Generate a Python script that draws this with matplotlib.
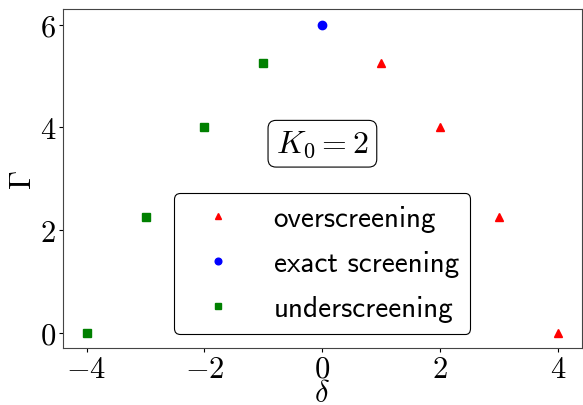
import matplotlib
matplotlib.use("Agg")
import matplotlib.pyplot as plt

plt.rcParams['mathtext.fontset'] = 'cm'
plt.rcParams['axes.formatter.use_mathtext'] = True
plt.rcParams['font.family'] = ['cmr10', 'DejaVu Sans']

over_x = [1, 2, 3, 4]
over_y = [5.25, 4, 2.25, 0]
exact_x = [0]
exact_y = [6]
under_x = [-1, -2, -3, -4]
under_y = [5.25, 4, 2.25, 0]

fig = plt.figure(figsize=(5.83, 4.06), dpi=100)
ax = fig.add_axes([0.108, 0.140, 0.890, 0.835])

ax.plot(over_x, over_y, '^', color='red', ms=6, label='overscreening', ls='none')
ax.plot(exact_x, exact_y, 'o', color='blue', ms=6, label='exact screening', ls='none')
ax.plot(under_x, under_y, 's', color='green', ms=6, label='underscreening', ls='none')

ax.set_xlim(-4.4, 4.4)
ax.set_ylim(-0.3, 6.3)
ax.set_xticks([-4, -2, 0, 2, 4])
ax.set_yticks([0, 2, 4, 6])
ax.set_xticklabels([r'$-4$', r'$-2$', r'$0$', r'$2$', r'$4$'])
ax.set_yticklabels([r'$0$', r'$2$', r'$4$', r'$6$'])
ax.tick_params(labelsize=22, length=3, pad=2)
ax.set_xlabel(r'$\delta$', fontsize=22, labelpad=-2)
ax.set_ylabel(r'$\Gamma$', fontsize=22, labelpad=2)
for s in ax.spines.values():
    s.set_color('#444444')

ax.text(0, 3.68, r'$K_0=2$', fontsize=23, ha='center', va='center',
        bbox=dict(boxstyle='round,pad=0.25', fc='white', ec='black', lw=0.8))

leg = ax.legend(loc='lower center', bbox_to_anchor=(0.50, 0.0), prop={'family': 'cmss10', 'size': 21},
                handlelength=2.2, labelspacing=0.62, borderpad=0.4, markerscale=0.8, framealpha=1,
                edgecolor='black', fancybox=True)
leg.get_frame().set_linewidth(0.8)

fig.savefig('out.png', dpi=100)
